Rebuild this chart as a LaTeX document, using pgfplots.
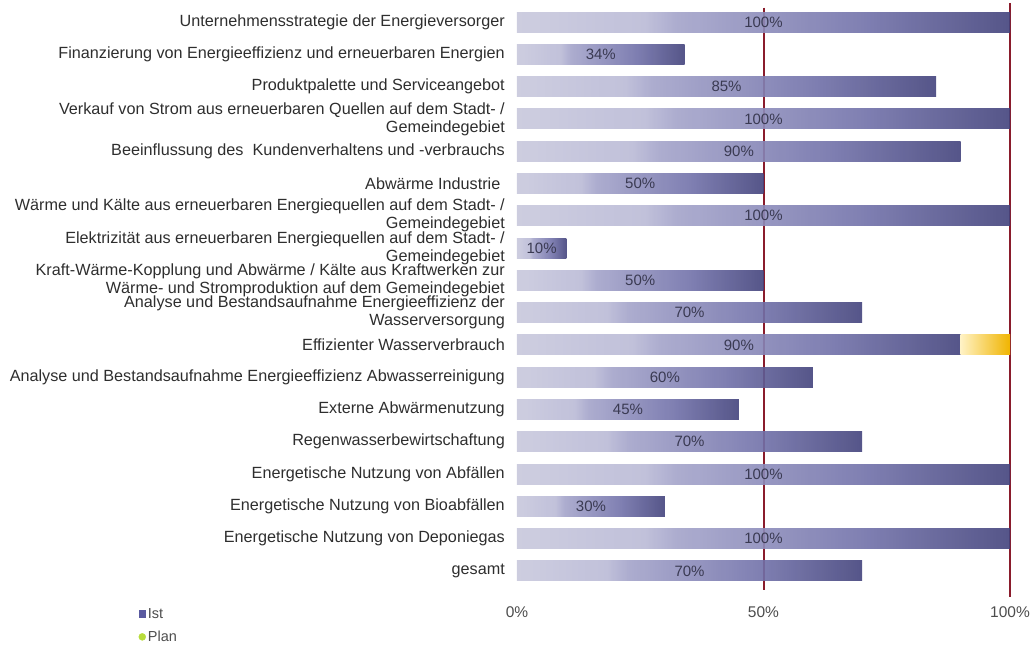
\documentclass[border=0pt]{standalone}
\usepackage{fontspec}
\setmainfont{Liberation Sans}
\usepackage{pgfplots}
\usepackage{pgfplotstable}
\pgfplotsset{compat=1.18}
\usetikzlibrary{calc}
\definecolor{istA}{HTML}{C8C8DC}
\definecolor{istB}{HTML}{BABAD6}
\definecolor{istC}{HTML}{A4A4CA}
\definecolor{istD}{HTML}{7272AA}
\definecolor{istE}{HTML}{43437C}
\definecolor{istLeg}{HTML}{5A5AA0}
\definecolor{planL}{HTML}{FFF2C4}
\definecolor{planR}{HTML}{F0B400}
\definecolor{planLeg}{HTML}{B8DC3C}
\definecolor{redline}{HTML}{8A1C2C}
\definecolor{labgray}{HTML}{2E2E2E}
\definecolor{valgray}{HTML}{3A3A52}
\pgfdeclarehorizontalshading{istshade}{100bp}{color(0bp)=(istA); color(25bp)=(istA); color(38bp)=(istB); color(41bp)=(istC); color(60bp)=(istD); color(75bp)=(istE); color(100bp)=(istE)}

\pgfplotstableread{
row ist plan
0 100 0
1 34 0
2 85 0
3 100 0
4 90 0
5 50 0
6 100 0
7 10 0
8 50 0
9 70 0
10 90 10
11 60 0
12 45 0
13 70 0
14 100 0
15 30 0
16 100 0
17 70 0
}\data

\pgfplotsset{
  common/.style={
    scale only axis, width=493pt, height=581pt,
    xmin=0, xmax=100, ymin=-0.5, ymax=17.5, y dir=reverse,
    axis line style={draw=none}, major tick length=0pt,
    clip=false,
  },
}

\begin{document}
\begin{tikzpicture}
% background: reference lines
\begin{axis}[common, xtick=\empty, ytick=\empty]
\addplot[redline, line width=2pt] coordinates {(50,-0.45) (50,17.6)};
\addplot[redline, line width=2pt] coordinates {(100,-0.6) (100,17.8)};
\coordinate (BL) at (rel axis cs:0,0);
\end{axis}
% Ist bars (one plot per row so that each bar gets its own gradient) and tick labels
\begin{axis}[common,
  xbar, bar width=20pt,
  xtick={0,50,100}, xticklabels={0\%,50\%,100\%},
  xticklabel style={inner sep=0pt, anchor=north, yshift=-19pt, font=\fontsize{15.5}{17}\selectfont, text=labgray!85},
  ytick={0,...,17},
  yticklabels={
    {Unternehmensstrategie der Energieversorger},
    {Finanzierung von Energieeffizienz und erneuerbaren Energien},
    {Produktpalette und Serviceangebot},
    {Verkauf von Strom aus erneuerbaren Quellen auf dem Stadt- /\\Gemeindegebiet},
    {Beeinflussung des\ \ Kundenverhaltens und -verbrauchs},
    {Abwärme Industrie\ },
    {Wärme und Kälte aus erneuerbaren Energiequellen auf dem Stadt- /\\Gemeindegebiet},
    {Elektrizität aus erneuerbaren Energiequellen auf dem Stadt- /\\Gemeindegebiet},
    {Kraft-Wärme-Kopplung und Abwärme / Kälte aus Kraftwerken zur\\Wärme- und Stromproduktion auf dem Gemeindegebiet},
    {Analyse und Bestandsaufnahme Energieeffizienz der\\Wasserversorgung},
    {Effizienter Wasserverbrauch},
    {Analyse und Bestandsaufnahme Energieeffizienz Abwasserreinigung},
    {Externe Abwärmenutzung},
    {Regenwasserbewirtschaftung},
    {Energetische Nutzung von Abfällen},
    {Energetische Nutzung von Bioabfällen},
    {Energetische Nutzung von Deponiegas},
    {gesamt}
  },
  yticklabel style={align=right, anchor=east, inner sep=0pt, xshift=-12pt,
    font=\fontsize{16.2}{18}\selectfont, text=labgray},
]
\pgfplotsinvokeforeach{0,...,17}{
\addplot[draw=none, bar shift=0pt, fill opacity=0.9, shade, shading=istshade,
  restrict expr to domain={\thisrow{row}}{#1:#1}, unbounded coords=discard]
  table[x=ist, y=row] {\data};
}
\end{axis}
% Plan bar stacked after Ist
\begin{axis}[common, xtick=\empty, ytick=\empty, xbar stacked, bar width=20pt]
\addplot[draw=none, fill=none, restrict expr to domain={\thisrow{row}}{10:10}, unbounded coords=discard]
  table[x=ist, y=row] {\data};
\addplot[draw=none, left color=planL, right color=planR, restrict expr to domain={\thisrow{row}}{10:10}, unbounded coords=discard]
  table[x=plan, y=row] {\data};
\end{axis}
% value labels and legend
\begin{axis}[common, xtick=\empty, ytick=\empty,
  legend style={at={(-0.768,-0.033)}, anchor=north west, draw=none, fill=none,
    inner sep=0pt, font=\fontsize{14.5}{16}\selectfont, text=labgray!85,
    row sep=7pt, cells={anchor=west}},
  legend cell align=left,
]
\addplot[forget plot, only marks, mark=none, point meta=explicit,
  nodes near coords={\pgfmathprintnumber[assume math mode=true]{\pgfplotspointmeta}\%},
  every node near coord/.append style={anchor=center, font=\fontsize{15}{16}\selectfont, text=valgray}]
  table[x expr=\thisrow{ist}/2, y=row, meta=ist] {\data};
\addlegendimage{legend image code/.code={\fill[istLeg] (0pt,-3.5pt) rectangle (6pt,3.5pt);}}
\addlegendentry{Ist}
\addlegendimage{legend image code/.code={\fill[planLeg] (3pt,0pt) circle (3.5pt);}}
\addlegendentry{Plan}
\end{axis}
\useasboundingbox ($(BL)+(-517pt,-65pt)$) rectangle ++(1032pt,652pt);
\end{tikzpicture}
\end{document}
